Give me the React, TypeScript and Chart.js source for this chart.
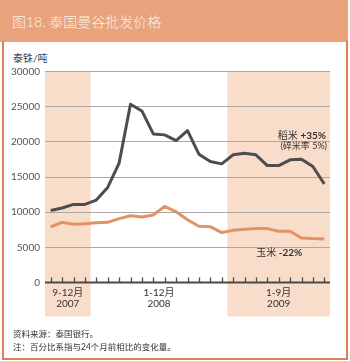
import React, { useEffect, useRef } from "react";
import { Chart, registerables } from "chart.js";

Chart.register(...registerables);

const months = [
  "2007-09", "2007-10", "2007-11", "2007-12",
  "2008-01", "2008-02", "2008-03", "2008-04", "2008-05", "2008-06",
  "2008-07", "2008-08", "2008-09", "2008-10", "2008-11", "2008-12",
  "2009-01", "2009-02", "2009-03", "2009-04", "2009-05", "2009-06",
  "2009-07", "2009-08", "2009-09",
];

const rice = [
  10250, 10590, 11100, 11100, 11720, 13510, 16970, 25340, 24390, 21130,
  20990, 20180, 21600, 18250, 17200, 16870, 18150, 18390, 18150, 16630,
  16630, 17440, 17540, 16490, 14000,
];

const corn = [
  7900, 8550, 8270, 8370, 8510, 8550, 9080, 9500, 9320, 9600,
  10820, 10050, 8930, 7990, 7940, 7090, 7420, 7560, 7660, 7660,
  7280, 7280, 6330, 6240, 6200,
];

const yTicks = [0, 5000, 10000, 15000, 20000, 25000, 30000];

const groupRanges = ["9-12月", "1-12月", "1-9月"];
const groupYears = ["2007", "2008", "2009"];
const groupStart = [0, 4, 16];
const groupEnd = [3, 15, 24];
const groupShaded = [true, false, true];

const riceName = "稻米 ";
const riceChange = "+35%";
const riceNote = "(碎米率 5%)";
const cornName = "玉米 ";
const cornChange = "-22%";

const title = "图18. 泰国曼谷批发价格";
const unit = "泰铢/吨";
const source = "资料来源：泰国银行。";
const note = "注：百分比系指与24个月前相比的变化量。";

const FONT = "Lato, 'Noto Sans CJK SC', sans-serif";

function drawTwoPart(ctx: any, a: string, b: string, x: number, y: number, align: "right" | "center") {
  ctx.font = `10px ${FONT}`;
  const wa = ctx.measureText(a).width;
  ctx.font = `bold 10px ${FONT}`;
  const wb = ctx.measureText(b).width;
  const total = wa + wb;
  const start = align === "right" ? x - total : x - total / 2;
  ctx.textAlign = "left";
  ctx.font = `10px ${FONT}`;
  ctx.fillText(a, start, y);
  ctx.font = `bold 10px ${FONT}`;
  ctx.fillText(b, start + wa, y);
}

const decorPlugin = {
  id: "decor",
  beforeDraw(chart: any) {
    const ctx = chart.ctx;
    const xs = chart.scales.x;
    const half = (xs.getPixelForValue(1) - xs.getPixelForValue(0)) / 2;
    const top = chart.chartArea.top;
    const bottom = chart.chartArea.bottom + 34;
    ctx.save();
    ctx.fillStyle = "#F9DDCB";
    for (let g = 0; g < groupStart.length; g++) {
      if (!groupShaded[g]) continue;
      const l = xs.getPixelForValue(groupStart[g]) - half;
      const r = xs.getPixelForValue(groupEnd[g]) + half;
      ctx.fillRect(l, top, r - l, bottom - top);
    }
    ctx.restore();
  },
  afterDraw(chart: any) {
    const ctx = chart.ctx;
    const xs = chart.scales.x;
    const ys = chart.scales.y;
    const ca = chart.chartArea;
    const half = (xs.getPixelForValue(1) - xs.getPixelForValue(0)) / 2;
    const y0 = ys.getPixelForValue(0);
    ctx.save();
    ctx.strokeStyle = "#4a4a4a";
    ctx.lineWidth = 2;
    ctx.beginPath();
    ctx.moveTo(ca.left, y0);
    ctx.lineTo(ca.right, y0);
    ctx.stroke();
    ctx.lineWidth = 1.3;
    for (let i = 0; i < months.length; i++) {
      const x = Math.round(xs.getPixelForValue(i)) + 0.5;
      ctx.beginPath();
      ctx.moveTo(x, y0);
      ctx.lineTo(x, y0 - 5);
      ctx.stroke();
    }
    ctx.fillStyle = "#333";
    ctx.font = `10px ${FONT}`;
    ctx.textAlign = "center";
    ctx.textBaseline = "middle";
    for (let g = 0; g < groupStart.length; g++) {
      const l = xs.getPixelForValue(groupStart[g]) - half;
      const r = xs.getPixelForValue(groupEnd[g]) + half;
      const cx = (l + r) / 2;
      ctx.fillText(groupRanges[g], cx, y0 + 10.5);
      ctx.fillText(groupYears[g], cx, y0 + 21.5);
    }
    ctx.fillStyle = "#333";
    drawTwoPart(ctx, riceName, riceChange, ca.right - 4, ys.getPixelForValue(20900), "right");
    ctx.textAlign = "right";
    ctx.font = `9px ${FONT}`;
    ctx.fillText(riceNote, ca.right - 3, ys.getPixelForValue(19450));
    drawTwoPart(ctx, cornName, cornChange, xs.getPixelForValue(20) + 0.5, ys.getPixelForValue(4200), "center");
    ctx.restore();
  },
};

export default function App() {
  const ref = useRef<HTMLCanvasElement>(null);
  useEffect(() => {
    document.body.style.margin = "0";
    const chart = new Chart(ref.current!, {
      type: "line",
      data: {
        labels: months,
        datasets: [
          {
            label: "稻米",
            data: rice,
            borderColor: "#4D4D4D",
            borderWidth: 3,
            pointRadius: 0,
            tension: 0,
            borderJoinStyle: "round",
          },
          {
            label: "玉米",
            data: corn,
            borderColor: "#E39263",
            borderWidth: 3,
            pointRadius: 0,
            tension: 0,
            borderJoinStyle: "round",
          },
        ],
      },
      options: {
        animation: false,
        responsive: false,
        devicePixelRatio: 1,
        layout: { padding: { left: 0, right: 20, top: 71.5, bottom: 78.5 } },
        plugins: { legend: { display: false }, tooltip: { enabled: false } },
        scales: {
          x: {
            type: "category",
            offset: true,
            display: false,
          },
          y: {
            min: 0,
            max: 30000,
            afterFit: (s: any) => {
              s.width = 45;
            },
            afterBuildTicks: (s: any) => {
              s.ticks = yTicks.map((v) => ({ value: v }));
            },
            border: { display: false },
            grid: {
              drawTicks: false,
              color: (c: any) => (c.tick && c.tick.value === 0 ? "rgba(0,0,0,0)" : "#A9A9A9"),
              lineWidth: 1,
            },
            ticks: {
              padding: 5,
              color: "#555",
              font: { family: FONT, size: 10 },
              callback: (v: any) => String(v),
            },
          },
        },
      },
      plugins: [decorPlugin],
    } as any);
    return () => chart.destroy();
  }, []);

  return (
    <div style={{ position: "absolute", left: 0, top: 0, width: 350, height: 361, background: "#fff", fontFamily: FONT }}>
      <div
        style={{
          position: "absolute", left: 0, top: 0, width: 348, height: 42,
          background: "#E9A37C",
        }}
      />
      <div
        style={{
          position: "absolute", left: 12, top: 13, fontSize: 14, lineHeight: "18px",
          color: "#FCEFE6", whiteSpace: "nowrap", fontWeight: 300,
        }}
      >
        {title}
      </div>
      <div
        style={{
          position: "absolute", left: 2, top: 41, width: 346, height: 319,
          border: "2px solid #DB8254", borderTop: "none", boxSizing: "border-box",
        }}
      />
      <div
        style={{
          position: "absolute", left: 13, top: 51, fontSize: 10, lineHeight: "14px",
          color: "#444", whiteSpace: "nowrap",
        }}
      >
        {unit}
      </div>
      <canvas ref={ref} width={350} height={361} style={{ position: "absolute", left: 0, top: 0 }} />
      <div
        style={{
          position: "absolute", left: 13, top: 328, fontSize: 8.5, lineHeight: "13px",
          color: "#333", whiteSpace: "nowrap",
        }}
      >
        <div>{source}</div>
        <div>{note}</div>
      </div>
    </div>
  );
}
